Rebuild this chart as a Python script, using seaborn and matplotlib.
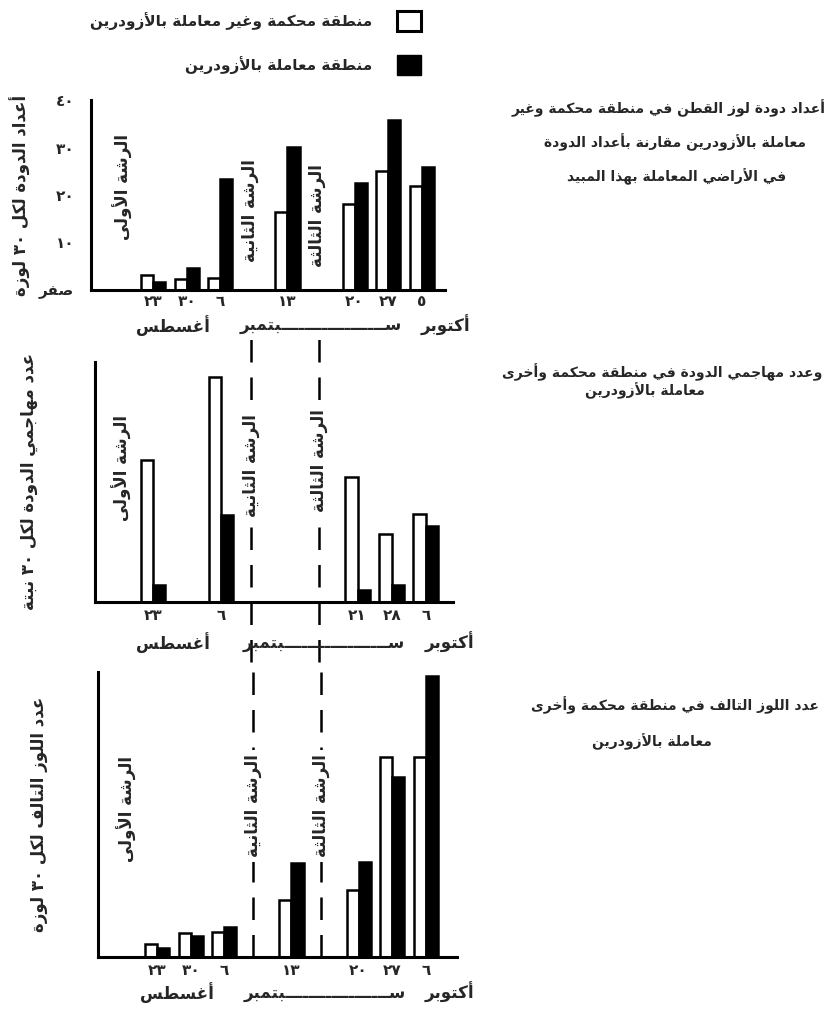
"""
Cotton bollworm counts, predators and damaged bolls: control vs Azodrin-treated plots.
"""

import re
import pandas as pd
import matplotlib.pyplot as plt
import matplotlib.transforms as mtransforms
from matplotlib.patches import Patch
import seaborn as sns

# x columns: sampling weeks plus an empty column for each spray date
columns = ['spray1', 'aug23', 'aug30', 'sep06', 'spray2', 'sep13', 'spray3', 'sep20', 'sep27', 'oct']
spray_cols = ['spray1', 'spray2', 'spray3']
spray_labels = ['الرشة الأولى', 'الرشة الثانية', 'الرشة الثالثة']
month_names = ['أغسطس', 'ســــــــــــــــــبتمبر', 'أكتوبر']
groups = ['control', 'treated']
legend_labels = ['منطقة محكمة وغير معاملة بالأزودرين', 'منطقة معاملة بالأزودرين']

# panel 1 - worms per 30 bolls
p1_cols = ['aug23', 'aug30', 'sep06', 'sep13', 'sep20', 'sep27', 'oct']
p1_days = ['٢٣', '٣٠', '٦', '١٣', '٢٠', '٢٧', '٥']
p1_control = [3.2, 2.3, 2.5, 16.4, 18.1, 25.1, 21.9]
p1_treated = [1.7, 4.6, 23.4, 30.1, 22.5, 35.8, 25.9]
p1_yticks = [0, 10, 20, 30, 40]
p1_yticklabels = ['صفر', '١٠', '٢٠', '٣٠', '٤٠']
p1_ylabel = 'أعداد الدودة لكل ٣٠ لوزة'
p1_title = ['أعداد دودة لوز القطن في منطقة محكمة وغير',
            'معاملة بالأزودرين مقارنة بأعداد الدودة',
            'في الأراضي المعاملة بهذا المبيد']

# panel 2 - predators
p2_cols = ['aug23', 'sep06', 'sep20', 'sep27', 'oct']
p2_days = ['٢٣', '٦', '٢١', '٢٨', '٦']
p2_control = [29.5, 46.9, 26.0, 14.2, 18.4]
p2_treated = [3.5, 18.1, 2.6, 3.5, 15.8]
p2_yticks = [0, 10, 20, 30, 40, 50]
p2_ylabel = 'عدد مهاجمي الدودة لكل ٣٠ نبتة'
p2_title = ['وعدد مهاجمي الدودة في منطقة محكمة وأخرى',
            'معاملة بالأزودرين']

# panel 3 - damaged bolls
p3_cols = ['aug23', 'aug30', 'sep06', 'sep13', 'sep20', 'sep27', 'oct']
p3_days = ['٢٣', '٣٠', '٦', '١٣', '٢٠', '٢٧', '٦']
p3_control = [1.4, 2.5, 2.6, 6.0, 7.1, 21.1, 21.1]
p3_treated = [0.9, 2.2, 3.2, 9.9, 10.0, 19.0, 29.6]
p3_yticks = [0, 5, 10, 15, 20, 25, 30]
p3_ylabel = 'عدد اللوز التالف لكل ٣٠ لوزة'
p3_title = ['عدد اللوز التالف في منطقة محكمة وأخرى',
            'معاملة بالأزودرين']


# --- minimal Arabic shaping (matplotlib has no bidi / joining) ---
AR_FORMS = {
    'ء': (0xFE80, 0), 'آ': (0xFE81, 1), 'أ': (0xFE83, 1), 'ؤ': (0xFE85, 1),
    'إ': (0xFE87, 1), 'ئ': (0xFE89, 2), 'ا': (0xFE8D, 1), 'ب': (0xFE8F, 2),
    'ة': (0xFE93, 1), 'ت': (0xFE95, 2), 'ث': (0xFE99, 2), 'ج': (0xFE9D, 2),
    'ح': (0xFEA1, 2), 'خ': (0xFEA5, 2), 'د': (0xFEA9, 1), 'ذ': (0xFEAB, 1),
    'ر': (0xFEAD, 1), 'ز': (0xFEAF, 1), 'س': (0xFEB1, 2), 'ش': (0xFEB5, 2),
    'ص': (0xFEB9, 2), 'ض': (0xFEBD, 2), 'ط': (0xFEC1, 2), 'ظ': (0xFEC5, 2),
    'ع': (0xFEC9, 2), 'غ': (0xFECD, 2), 'ف': (0xFED1, 2), 'ق': (0xFED5, 2),
    'ك': (0xFED9, 2), 'ل': (0xFEDD, 2), 'م': (0xFEE1, 2), 'ن': (0xFEE5, 2),
    'ه': (0xFEE9, 2), 'و': (0xFEED, 1), 'ى': (0xFEEF, 1), 'ي': (0xFEF1, 2),
}
LAM_ALEF = {'آ': 0xFEF5, 'أ': 0xFEF7, 'إ': 0xFEF9, 'ا': 0xFEFB}
TATWEEL = 'ـ'


def joins_forward(ch):
    return ch == TATWEEL or (ch in AR_FORMS and AR_FORMS[ch][1] == 2)


def joins_back(ch):
    return ch == TATWEEL or (ch in AR_FORMS and AR_FORMS[ch][1] >= 1)


def ar(text):
    out = []
    i = 0
    n = len(text)
    while i < n:
        ch = text[i]
        prev_joins = i > 0 and joins_forward(text[i - 1])
        if ch == 'ل' and i + 1 < n and text[i + 1] in LAM_ALEF:
            out.append(chr(LAM_ALEF[text[i + 1]] + (1 if prev_joins else 0)))
            i += 2
            continue
        if ch in AR_FORMS:
            base, kind = AR_FORMS[ch]
            nxt = text[i + 1] if i + 1 < n else ''
            to_prev = kind >= 1 and prev_joins
            to_next = kind == 2 and joins_back(nxt)
            if kind == 2:
                off = {(False, False): 0, (True, False): 1,
                       (False, True): 2, (True, True): 3}[(to_prev, to_next)]
            else:
                off = 1 if to_prev else 0
            out.append(chr(base + off))
        else:
            out.append(ch)
        i += 1
    s = ''.join(out)[::-1]
    return re.sub(r'[0-9٠-٩]+', lambda m: m.group(0)[::-1], s)


sns.set_style('white')
plt.rcParams['font.family'] = ['DejaVu Sans']
plt.rcParams['font.weight'] = 'bold'
plt.rcParams['axes.labelweight'] = 'bold'

fig = plt.figure(figsize=(8.31, 10.10), dpi=100)
W, H = 831, 1010


def add_axes(left, top, right, bottom):
    return fig.add_axes([left / W, 1 - bottom / H, (right - left) / W, (bottom - top) / H])


def draw_panel(ax, cols, days, control, treated, yticks, yticklabels, ylabel,
               xlim, label_x, tick_pad, month_y, text_y, dashed, dash_span):
    n = len(cols)
    df = pd.DataFrame({
        'col': cols * 2,
        'group': [groups[0]] * n + [groups[1]] * n,
        'value': control + treated,
    })
    sns.barplot(data=df, x='col', y='value', hue='group', order=columns,
                hue_order=groups, palette={'control': 'white', 'treated': 'black'},
                edgecolor='black', linewidth=1.8, width=0.72, saturation=1,
                errorbar=None, legend=False, ax=ax)
    ax.set_xlim(*xlim)
    ax.set_ylim(yticks[0], yticks[-1])
    ax.set_yticks(yticks)
    if yticklabels:
        ax.set_yticklabels([ar(t) for t in yticklabels], fontsize=11)
    else:
        ax.set_yticklabels([])
    ax.set_xticks(range(len(columns)))
    ax.set_xticklabels([days[cols.index(c)] if c in cols else '' for c in columns],
                       fontsize=11)
    ax.tick_params(axis='y', direction='in', length=7, width=2, pad=12)
    ax.tick_params(axis='x', length=0, pad=tick_pad)
    ax.set_xlabel('')
    ax.set_ylabel(ar(ylabel), fontsize=12)
    ax.yaxis.set_label_coords(label_x, 0.5)
    for side in ['top', 'right']:
        ax.spines[side].set_visible(False)
    for side in ['left', 'bottom']:
        ax.spines[side].set_linewidth(2.2)
        ax.spines[side].set_color('black')

    trans = mtransforms.blended_transform_factory(ax.transData, ax.transAxes)
    month_x = [1.6, 6.0, 9.7]
    for mx, name in zip(month_x, month_names):
        ax.text(mx, month_y, ar(name), transform=trans, ha='center', va='center',
                fontsize=12, clip_on=False)

    for k, (col, label) in enumerate(zip(spray_cols, spray_labels)):
        x = columns.index(col) - (0.13 if k else -0.1)
        if dashed and k:
            ax.axvline(x, ymin=dash_span[0], ymax=dash_span[1], color='black',
                       lw=1.8, ls=(0, (9, 6)), clip_on=False, zorder=1)
        ax.text(x, text_y[k], ar(label), transform=trans, rotation=90,
                ha='center', va='center', fontsize=12, zorder=5,
                bbox=dict(fc='white', ec='none', pad=3))


# panel 1
ax1 = add_axes(91, 100, 445, 290)
draw_panel(ax1, p1_cols, p1_days, p1_control, p1_treated, p1_yticks, p1_yticklabels,
           p1_ylabel, (-0.85, 9.69), -0.17, 3, -0.185, [0.54, 0.42, 0.39], False, None)

# panel 2
ax2 = add_axes(95, 362, 453, 602)
draw_panel(ax2, p2_cols, p2_days, p2_control, p2_treated, p2_yticks, None,
           p2_ylabel, (-0.70, 9.80), -0.16, 4, -0.17, [0.56, 0.57, 0.59], True, (-0.25, 1.12))

# panel 3
ax3 = add_axes(98, 672, 457, 957)
draw_panel(ax3, p3_cols, p3_days, p3_control, p3_treated, p3_yticks, None,
           p3_ylabel, (-0.76, 9.93), -0.14, 4, -0.125, [0.52, 0.53, 0.53], True, (0.0, 1.05))

# titles on the right
for lines, ys, xs in [(p1_title, [108, 142, 177], [669, 675, 677]),
                      (p2_title, [372, 391], [662, 645]),
                      (p3_title, [705, 742], [675, 652])]:
    for line, y, x in zip(lines, ys, xs):
        fig.text(x / W, 1 - y / H, ar(line), ha='center', va='center', fontsize=10)

# legend at the top, text to the left of the swatch
handles = [Patch(facecolor='white', edgecolor='black', linewidth=2.2),
           Patch(facecolor='black', edgecolor='black')]
fig.legend(handles, [ar(t) for t in legend_labels], loc='upper right',
           bbox_to_anchor=(421 / W, 1 - 11 / H), markerfirst=False, frameon=False,
           fontsize=11, handlelength=1.6, handleheight=1.6, labelspacing=1.6,
           handletextpad=1.6, borderpad=0, borderaxespad=0)

fig.savefig('out.png', dpi=100)
plt.close(fig)
